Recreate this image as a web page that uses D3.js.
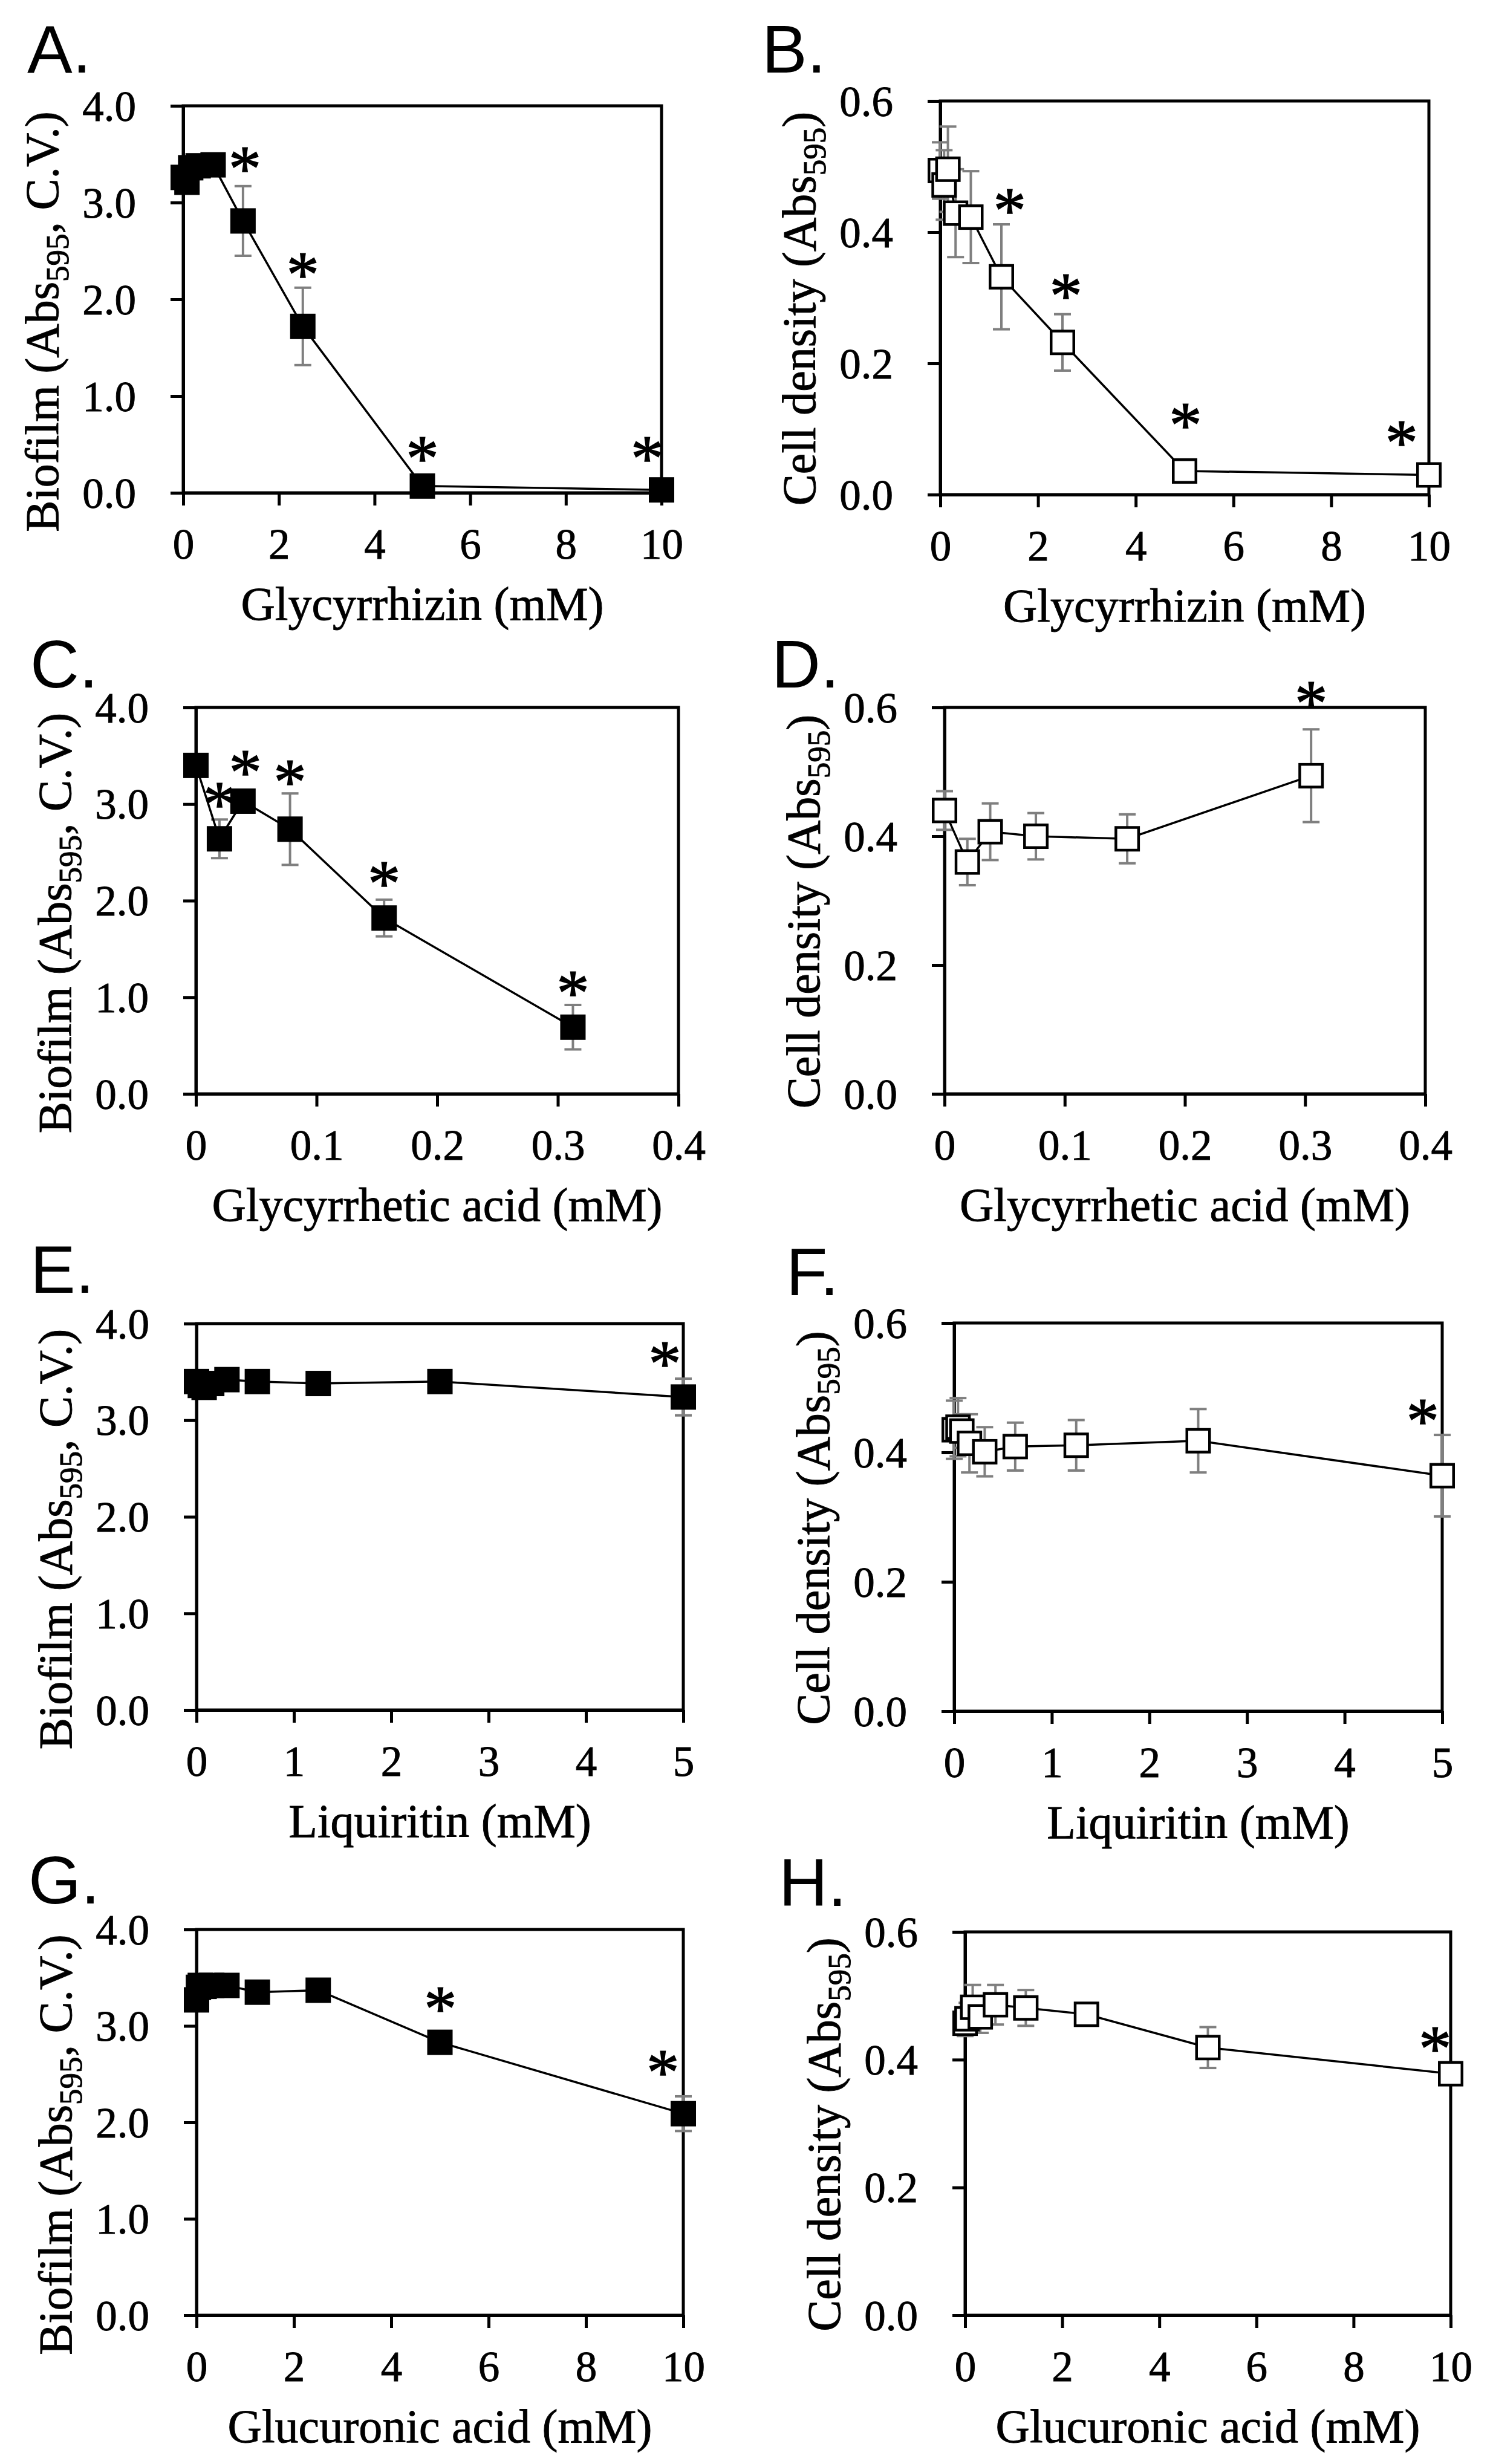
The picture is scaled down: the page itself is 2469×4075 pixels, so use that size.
<!DOCTYPE html>
<html><head><meta charset="utf-8">
<script src="https://cdn.jsdelivr.net/npm/d3@7/dist/d3.min.js"></script>
<style>html,body{margin:0;padding:0;background:#fff}svg{display:block}</style>
</head><body>
<svg id="fig" width="2469" height="4075"></svg>
<script>
// ---------------- DATA ----------------
const panelLetters = ['A.', 'B.', 'C.', 'D.', 'E.', 'F.', 'G.', 'H.'];
const xTitles = ['Glycyrrhizin (mM)', 'Glycyrrhetic acid (mM)', 'Liquiritin (mM)', 'Glucuronic acid (mM)'];
const yTitleBiofilm = ['Biofilm (Abs', '595', ', C.V.)'];
const yTitleCell = ['Cell density (Abs', '595', ')'];

const bioTicks = [0, 1, 2, 3, 4];
const bioTickLabels = ['0.0', '1.0', '2.0', '3.0', '4.0'];
const cellTicks = [0, 0.2, 0.4, 0.6];
const cellTickLabels = ['0.0', '0.2', '0.4', '0.6'];
const conc10Ticks = [0, 2, 4, 6, 8, 10];
const conc10Labels = ['0', '2', '4', '6', '8', '10'];
const conc04Ticks = [0, 0.1, 0.2, 0.3, 0.4];
const conc04Labels = ['0', '0.1', '0.2', '0.3', '0.4'];
const conc5Ticks = [0, 1, 2, 3, 4, 5];
const conc5Labels = ['0', '1', '2', '3', '4', '5'];

// A: Glycyrrhizin – biofilm
const xA = [0, 0.078, 0.156, 0.3125, 0.625, 1.25, 2.5, 5, 10];
const yA = [3.26, 3.21, 3.36, 3.38, 3.39, 2.81, 1.72, 0.07, 0.03];
const eA = [0.05, 0.05, 0.05, 0.05, 0.04, 0.36, 0.40, 0.04, 0.03];
const starXA = [1.29, 2.5, 5, 9.7];
const starYA = [3.44, 2.35, 0.45, 0.45];
// B: Glycyrrhizin – cell density
const xB = [0, 0.078, 0.156, 0.3125, 0.625, 1.25, 2.5, 5, 10];
const yB = [0.494, 0.472, 0.496, 0.429, 0.423, 0.332, 0.232, 0.036, 0.030];
const eB = [0.043, 0.053, 0.065, 0.067, 0.070, 0.080, 0.043, 0.005, 0.004];
const starXB = [1.42, 2.57, 5.02, 9.44];
const starYB = [0.447, 0.317, 0.12, 0.093];
// C: Glycyrrhetic acid – biofilm
const xC = [0, 0.0195, 0.039, 0.078, 0.156, 0.3125];
const yC = [3.40, 2.64, 3.03, 2.74, 1.82, 0.69];
const eC = [0.03, 0.20, 0.05, 0.37, 0.19, 0.23];
const starXC = [0.0195, 0.041, 0.078, 0.156, 0.3125];
const starYC = [3.09, 3.42, 3.32, 2.27, 1.14];
// D: Glycyrrhetic acid – cell density
const xD = [0, 0.019, 0.038, 0.076, 0.152, 0.305];
const yD = [0.440, 0.360, 0.407, 0.400, 0.396, 0.494];
const eD = [0.030, 0.036, 0.044, 0.036, 0.038, 0.072];
const starXD = [0.305];
const starYD = [0.62];
// E: Liquiritin – biofilm
const xE = [0, 0.039, 0.078, 0.156, 0.3125, 0.625, 1.25, 2.5, 5];
const yE = [3.40, 3.36, 3.34, 3.38, 3.42, 3.40, 3.38, 3.40, 3.24];
const eE = [0.05, 0.05, 0.05, 0.05, 0.05, 0.04, 0.04, 0.04, 0.19];
const starXE = [4.81];
const starYE = [3.68];
// F: Liquiritin – cell density
const xF = [0, 0.039, 0.078, 0.156, 0.3125, 0.625, 1.25, 2.5, 5];
const yF = [0.435, 0.439, 0.433, 0.414, 0.401, 0.409, 0.411, 0.418, 0.364];
const eF = [0.045, 0.045, 0.026, 0.045, 0.038, 0.037, 0.039, 0.049, 0.063];
const starXF = [4.80];
const starYF = [0.462];
// G: Glucuronic acid – biofilm
const xG = [0, 0.039, 0.078, 0.156, 0.3125, 0.625, 1.25, 2.5, 5, 10];
const yG = [3.27, 3.40, 3.42, 3.41, 3.42, 3.42, 3.35, 3.37, 2.83, 2.09];
const eG = [0.07, 0.05, 0.04, 0.04, 0.04, 0.04, 0.04, 0.04, 0.04, 0.18];
const starXG = [5.01, 9.58];
const starYG = [3.27, 2.61];
// H: Glucuronic acid – cell density
const xH = [0, 0.039, 0.156, 0.3125, 0.625, 1.25, 2.5, 5, 10];
const yH = [0.457, 0.464, 0.482, 0.467, 0.486, 0.481, 0.471, 0.419, 0.378];
const eH = [0.020, 0.025, 0.035, 0.025, 0.031, 0.028, 0.012, 0.032, 0.008];
const starXH = [9.68];
const starYH = [0.431];

// ---------------- LAYOUT / STYLE ----------------
const layout = [
  {left: 303, top: 175, w: 791, h: 640, lx: 45, ly: 120},
  {left: 1555, top: 167, w: 808, h: 651, lx: 1260, ly: 120},
  {left: 324, top: 1170, w: 798, h: 639, lx: 50, ly: 1137},
  {left: 1562, top: 1170, w: 795, h: 639, lx: 1276, ly: 1137},
  {left: 325, top: 2189, w: 805, h: 639, lx: 50, ly: 2138},
  {left: 1578, top: 2188, w: 807, h: 642, lx: 1300, ly: 2142},
  {left: 325, top: 3191, w: 805, h: 638, lx: 47, ly: 3148},
  {left: 1596, top: 3195, w: 803, h: 634, lx: 1288, ly: 3152}
];

const SERIF = '"Liberation Serif","Times New Roman",serif';
const SANS = '"Liberation Sans",Arial,sans-serif';
const TICK_FS = 71, TITLE_FS = 78, LETTER_FS = 112, STAR_FS = 108;
const TEXT_STROKE = 0.9;
const AXIS_W = 5, LINE_W = 3.5, ERR_COLOR = '#7f7f7f', ERR_W = 4, CAP_W = 28;
const MARK = 42;

const bioAxis = {domain: [0, 4], ticks: bioTicks, labels: bioTickLabels, title: yTitleBiofilm, titleOff: 37};
const cellAxis = {domain: [0, 0.6], ticks: cellTicks, labels: cellTickLabels, title: yTitleCell, titleOff: 18};
const c10 = {domain: [0, 10], ticks: conc10Ticks, labels: conc10Labels};
const c04 = {domain: [0, 0.4], ticks: conc04Ticks, labels: conc04Labels};
const c5 = {domain: [0, 5], ticks: conc5Ticks, labels: conc5Labels};

const panels = [
  {x: xA, y: yA, e: eA, sx: starXA, sy: starYA, filled: true, xa: c10, ya: bioAxis, xt: xTitles[0]},
  {x: xB, y: yB, e: eB, sx: starXB, sy: starYB, filled: false, xa: c10, ya: cellAxis, xt: xTitles[0]},
  {x: xC, y: yC, e: eC, sx: starXC, sy: starYC, filled: true, xa: c04, ya: bioAxis, xt: xTitles[1]},
  {x: xD, y: yD, e: eD, sx: starXD, sy: starYD, filled: false, xa: c04, ya: cellAxis, xt: xTitles[1]},
  {x: xE, y: yE, e: eE, sx: starXE, sy: starYE, filled: true, xa: c5, ya: bioAxis, xt: xTitles[2]},
  {x: xF, y: yF, e: eF, sx: starXF, sy: starYF, filled: false, xa: c5, ya: cellAxis, xt: xTitles[2]},
  {x: xG, y: yG, e: eG, sx: starXG, sy: starYG, filled: true, xa: c10, ya: bioAxis, xt: xTitles[3]},
  {x: xH, y: yH, e: eH, sx: starXH, sy: starYH, filled: false, xa: c10, ya: cellAxis, xt: xTitles[3]}
];

const svg = d3.select('#fig');
svg.append('rect').attr('width', 2469).attr('height', 4075).attr('fill', '#fff');

function serifText(sel, fs) {
  return sel.attr('font-family', SERIF).attr('font-size', fs).attr('fill', '#000')
    .attr('stroke', '#000').attr('stroke-width', TEXT_STROKE);
}

panels.forEach((p, i) => {
  const L = layout[i];
  const g = svg.append('g').attr('transform', `translate(${L.left},${L.top})`);
  const xs = d3.scaleLinear().domain(p.xa.domain).range([0, L.w]);
  const ys = d3.scaleLinear().domain(p.ya.domain).range([L.h, 0]);

  // panel letter
  svg.append('text').attr('x', L.lx).attr('y', L.ly)
    .attr('font-family', SANS).attr('font-size', LETTER_FS).attr('fill', '#000')
    .text(panelLetters[i]);

  // frame
  g.append('rect').attr('x', 0).attr('y', 0).attr('width', L.w).attr('height', L.h)
    .attr('fill', 'none').attr('stroke', '#000').attr('stroke-width', AXIS_W);

  // axes
  const yAxis = d3.axisLeft(ys).tickValues(p.ya.ticks)
    .tickFormat((d, k) => p.ya.labels[k]).tickSize(21).tickSizeOuter(0).tickPadding(57);
  const xAxis = d3.axisBottom(xs).tickValues(p.xa.ticks)
    .tickFormat((d, k) => p.xa.labels[k]).tickSize(21).tickSizeOuter(0).tickPadding(38);
  const ya = g.append('g').call(yAxis);
  const xa = g.append('g').attr('transform', `translate(0,${L.h})`).call(xAxis);
  [ya, xa].forEach(a => {
    a.select('.domain').attr('stroke', '#000').attr('stroke-width', AXIS_W);
    a.selectAll('.tick line').attr('stroke', '#000').attr('stroke-width', AXIS_W);
    serifText(a.selectAll('.tick text'), TICK_FS);
  });
  ya.selectAll('.tick text').attr('dy', '0.34em');
  xa.selectAll('.tick text').attr('dy', '0.71em');

  // axis titles
  serifText(g.append('text').attr('x', L.w / 2).attr('y', L.h + 210)
    .attr('text-anchor', 'middle'), TITLE_FS).text(p.xt);
  const yt = serifText(g.append('text')
    .attr('transform', `translate(${-207},${L.h / 2 + p.ya.titleOff}) rotate(-90)`)
    .attr('text-anchor', 'middle'), TITLE_FS);
  yt.append('tspan').text(p.ya.title[0]);
  yt.append('tspan').attr('font-size', TITLE_FS * 0.68).attr('dy', TITLE_FS * 0.22).text(p.ya.title[1]);
  yt.append('tspan').attr('dy', -TITLE_FS * 0.22).text(p.ya.title[2]);

  const pts = p.x.map((xv, k) => ({x: xv, y: p.y[k], e: p.e[k]}));

  // error bars
  const eb = g.append('g').attr('stroke', ERR_COLOR).attr('stroke-width', ERR_W).attr('fill', 'none');
  pts.forEach(d => {
    const cx = xs(d.x), y1 = ys(d.y + d.e), y2 = ys(Math.max(0, d.y - d.e));
    eb.append('line').attr('x1', cx).attr('x2', cx).attr('y1', y1).attr('y2', y2);
    eb.append('line').attr('x1', cx - CAP_W / 2).attr('x2', cx + CAP_W / 2).attr('y1', y1).attr('y2', y1);
    eb.append('line').attr('x1', cx - CAP_W / 2).attr('x2', cx + CAP_W / 2).attr('y1', y2).attr('y2', y2);
  });

  // line
  g.append('path').datum(pts)
    .attr('d', d3.line().x(d => xs(d.x)).y(d => ys(d.y)))
    .attr('fill', 'none').attr('stroke', '#000').attr('stroke-width', LINE_W);

  // markers
  const sw = p.filled ? 0 : 4.5;
  const side = MARK - sw;
  g.append('g').selectAll('rect').data(pts).join('rect')
    .attr('x', d => xs(d.x) - side / 2).attr('y', d => ys(d.y) - side / 2)
    .attr('width', side).attr('height', side)
    .attr('fill', p.filled ? '#000' : '#fff')
    .attr('stroke', '#000').attr('stroke-width', sw);

  // significance stars
  g.append('g').selectAll('text').data(p.sx.map((sxv, k) => ({x: sxv, y: p.sy[k]}))).join('text')
    .attr('x', d => xs(d.x)).attr('y', d => ys(d.y) + STAR_FS * 0.47)
    .attr('text-anchor', 'middle').attr('font-family', SERIF).attr('font-size', STAR_FS)
    .attr('fill', '#000').attr('stroke', '#000').attr('stroke-width', 1.5).text('*');
});
</script>
</body></html>
